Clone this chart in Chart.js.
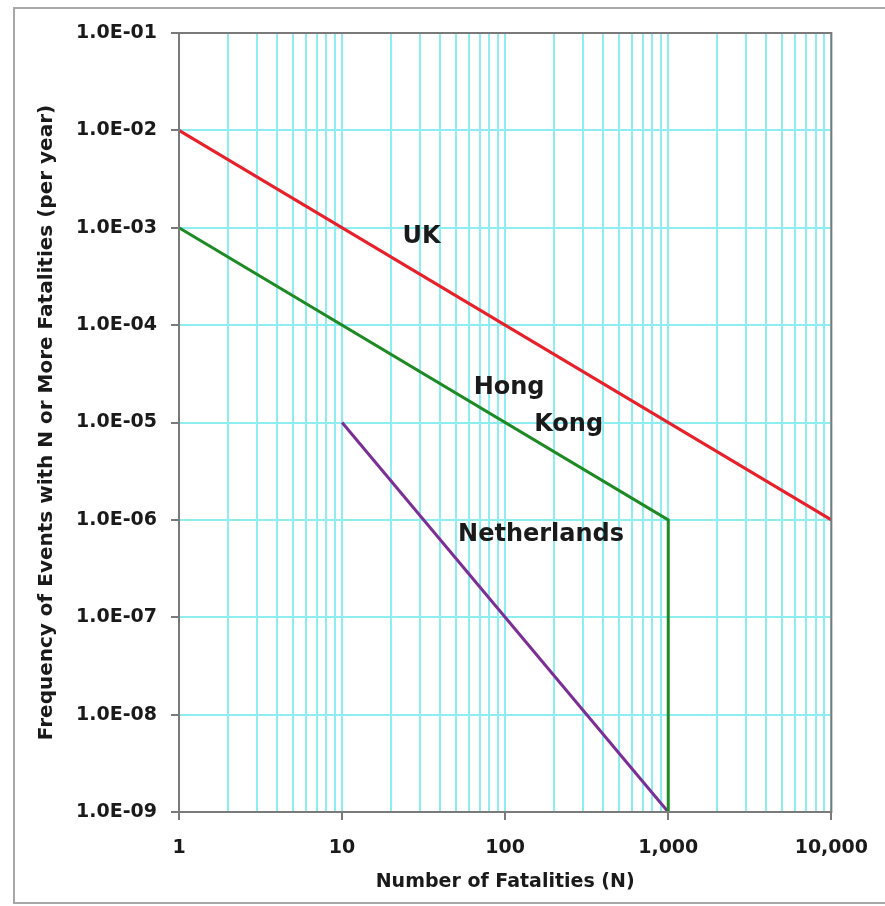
<!DOCTYPE html>
<html>
<head>
<meta charset="utf-8">
<title>F-N criterion lines</title>
<script src="https://cdn.jsdelivr.net/npm/chart.js@4.4.1/dist/chart.umd.min.js"></script>
<style>
  html, body { margin: 0; padding: 0; background: #fff; overflow: hidden; }
  #wrap { position: relative; width: 885px; height: 906px; }
  #frame { position: absolute; left: 13px; top: 7px; width: 900px; height: 897px;
           border: 2px solid #a8a8a8; box-sizing: border-box; }
  #chart { position: absolute; left: 0; top: 0; }
</style>
</head>
<body>
<div id="wrap">
  <div id="frame"></div>
  <canvas id="chart" width="885" height="906"></canvas>
</div>
<script>
// Data (N = number of fatalities, F = frequency per year)
const ukN = [1, 10000];
const ukF = [1e-2, 1e-6];
const hkN = [1, 1000, 1000];
const hkF = [1e-3, 1e-6, 1e-9];
const nlN = [10, 1000];
const nlF = [1e-5, 1e-9];

// Axis ticks
const xTickValues = [1, 2, 3, 4, 5, 6, 7, 8, 9,
  10, 20, 30, 40, 50, 60, 70, 80, 90,
  100, 200, 300, 400, 500, 600, 700, 800, 900,
  1000, 2000, 3000, 4000, 5000, 6000, 7000, 8000, 9000, 10000];
const xMajorValues = [1, 10, 100, 1000, 10000];
const xMajorLabels = ["1", "10", "100", "1,000", "10,000"];
const yMajorValues = [1e-9, 1e-8, 1e-7, 1e-6, 1e-5, 1e-4, 1e-3, 1e-2, 1e-1];
const yMajorLabels = ["1.0E-09", "1.0E-08", "1.0E-07", "1.0E-06", "1.0E-05",
  "1.0E-04", "1.0E-03", "1.0E-02", "1.0E-01"];

// Curve labels (anchored in data space)
const labelText = ["UK", "Hong", "Kong", "Netherlands"];
const labelN = [30.7, 105.7, 245, 166];
const labelF = [8.0e-4, 2.3e-5, 9.4e-6, 7.0e-7];

const GRID = "#8eedf1";
const AXIS = "#7a7a7a";
const INK = "#1a1a1a";

Chart.defaults.font.family = "'DejaVu Sans', sans-serif";
Chart.defaults.font.weight = "bold";
Chart.defaults.color = INK;

function toPoints(xs, ys) {
  return xs.map((x, i) => ({ x: x, y: ys[i] }));
}

const plotFrame = {
  id: "plotFrame",
  afterDatasetsDraw(chart) {
    const { ctx, chartArea: a } = chart;
    ctx.save();
    ctx.strokeStyle = AXIS;
    ctx.lineWidth = 2;
    ctx.strokeRect(a.left, a.top, a.right - a.left, a.bottom - a.top);
    ctx.restore();
  },
};

const curveLabels = {
  id: "curveLabels",
  afterDatasetsDraw(chart) {
    const { ctx, scales } = chart;
    ctx.save();
    ctx.font = "bold 24px 'DejaVu Sans', sans-serif";
    ctx.fillStyle = INK;
    ctx.textAlign = "center";
    ctx.textBaseline = "middle";
    labelText.forEach((t, i) => {
      ctx.fillText(t, scales.x.getPixelForValue(labelN[i]), scales.y.getPixelForValue(labelF[i]));
    });
    ctx.restore();
  },
};

const lineStyle = { pointRadius: 0, borderWidth: 3, fill: false, tension: 0, clip: 4 };

new Chart(document.getElementById("chart"), {
  type: "line",
  data: {
    datasets: [
      { label: "UK", data: toPoints(ukN, ukF), borderColor: "#e8202a", ...lineStyle },
      { label: "Hong Kong", data: toPoints(hkN, hkF), borderColor: "#1e8a24", ...lineStyle },
      { label: "Netherlands", data: toPoints(nlN, nlF), borderColor: "#7b2f96", ...lineStyle },
    ],
  },
  options: {
    responsive: false,
    devicePixelRatio: 1,
    animation: false,
    layout: { padding: { left: 0, right: 50, top: 33, bottom: 0 } },
    plugins: { legend: { display: false }, tooltip: { enabled: false } },
    scales: {
      x: {
        type: "logarithmic",
        min: 1,
        max: 10000,
        afterBuildTicks: (s) => { s.ticks = xTickValues.map((v) => ({ value: v })); },
        afterFit: (s) => { s.height = 94; },
        border: { display: false },
        grid: {
          color: GRID,
          lineWidth: 2,
          tickLength: 8,
          tickWidth: 2,
          tickColor: (c) => (c.tick && xMajorValues.includes(c.tick.value) ? AXIS : "rgba(0,0,0,0)"),
        },
        ticks: {
          autoSkip: false,
          maxRotation: 0,
          padding: 17,
          font: { size: 19, weight: "bold" },
          color: INK,
          callback: (v) => {
            const i = xMajorValues.indexOf(v);
            return i >= 0 ? xMajorLabels[i] : "";
          },
        },
        title: {
          display: true,
          text: "Number of Fatalities (N)",
          font: { size: 19, weight: "bold" },
          color: INK,
          padding: { top: 0, bottom: 13 },
        },
      },
      y: {
        type: "logarithmic",
        min: 1e-9,
        max: 1e-1,
        afterBuildTicks: (s) => { s.ticks = yMajorValues.map((v) => ({ value: v })); },
        afterFit: (s) => { s.width = 179; },
        border: { display: false },
        grid: {
          color: GRID,
          lineWidth: 2,
          tickLength: 8,
          tickWidth: 2,
          tickColor: AXIS,
        },
        ticks: {
          autoSkip: false,
          padding: 14,
          font: { size: 19, weight: "bold" },
          color: INK,
          callback: (v) => {
            const i = yMajorValues.indexOf(v);
            return i >= 0 ? yMajorLabels[i] : "";
          },
        },
        title: {
          display: true,
          text: "Frequency of Events with N or More Fatalities (per year)",
          font: { size: 20, weight: "bold" },
          color: INK,
          padding: { top: 35, bottom: 0 },
        },
      },
    },
  },
  plugins: [plotFrame, curveLabels],
});
</script>
</body>
</html>
